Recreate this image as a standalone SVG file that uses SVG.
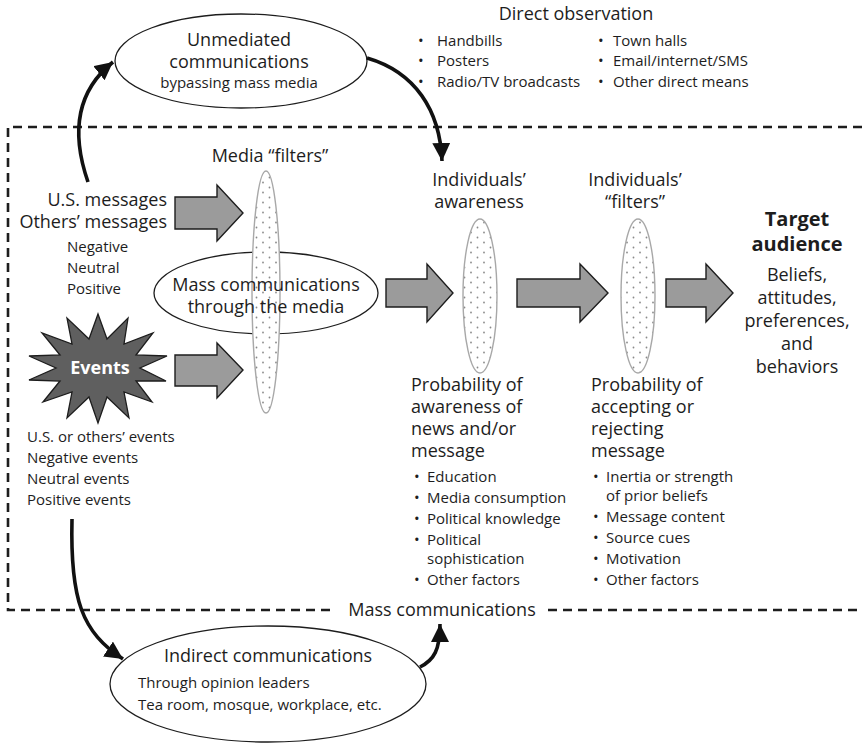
<svg xmlns="http://www.w3.org/2000/svg" width="862" height="743" viewBox="0 0 862 743">
  <defs>
    <pattern id="dots" width="13" height="10" patternUnits="userSpaceOnUse">
      <rect width="13" height="10" fill="#ffffff"/>
      <circle cx="3" cy="2.5" r="0.9" fill="#8a8a8a"/>
      <circle cx="9.5" cy="7.5" r="0.9" fill="#8a8a8a"/>
    </pattern>
    <marker id="head" markerUnits="userSpaceOnUse" markerWidth="20" markerHeight="18" refX="18" refY="9" orient="auto">
      <path d="M0,0 L18,9 L0,18 z" fill="#111"/>
    </marker>
    <style>
      text { font-family: "Open Sans", "Noto Sans", "Liberation Sans", sans-serif; fill: #1d1d1d; }
      .lg { font-size: 18px; }
      .sm { font-size: 15px; }
      .mid { text-anchor: middle; }
      .end { text-anchor: end; }
      .bold { font-weight: bold; }
      .oval { fill: #ffffff; stroke: #1d1d1d; stroke-width: 1.3; }
      .lens { fill: url(#dots); stroke: #a8a8a8; stroke-width: 1.4; }
      .blk { fill: #9b9b9b; stroke: #1d1d1d; stroke-width: 1.4; stroke-linejoin: miter; }
      .dash { fill: none; stroke: #1d1d1d; stroke-width: 2.6; stroke-dasharray: 9 6; }
      .curve { fill: none; stroke: #111; stroke-width: 3.6; marker-end: url(#head); }
    </style>
  </defs>
  <rect width="862" height="743" fill="#ffffff"/>

  <!-- mass-communications boundary -->
  <g id="boundary">
    <path class="dash" d="M862,127 H8 V610 H335"/>
    <path class="dash" d="M548,610 H862"/>
    <text class="lg mid" x="442" y="616">Mass communications</text>
  </g>

  <!-- unmediated channel -->
  <g id="unmediated">
    <ellipse class="oval" cx="241" cy="61" rx="126" ry="47"/>
    <text class="lg mid" x="239" y="46">Unmediated</text>
    <text class="lg mid" x="239" y="68">communications</text>
    <text class="sm mid" x="239" y="88">bypassing mass media</text>
  </g>

  <g id="direct-observation">
    <text class="lg mid" x="576" y="20">Direct observation</text>
    <text class="sm" x="418" y="46">•<tspan x="437">Handbills</tspan></text>
    <text class="sm" x="418" y="66">•<tspan x="437">Posters</tspan></text>
    <text class="sm" x="418" y="87">•<tspan x="437">Radio/TV broadcasts</tspan></text>
    <text class="sm" x="598" y="46">•<tspan x="613">Town halls</tspan></text>
    <text class="sm" x="598" y="66">•<tspan x="613">Email/internet/SMS</tspan></text>
    <text class="sm" x="598" y="87">•<tspan x="613">Other direct means</tspan></text>
  </g>

  <!-- message sources -->
  <g id="messages">
    <text class="lg end" x="167" y="206">U.S. messages</text>
    <text class="lg end" x="167" y="228">Others’ messages</text>
    <text class="sm" x="67" y="252">Negative</text>
    <text class="sm" x="67" y="273">Neutral</text>
    <text class="sm" x="67" y="294">Positive</text>
  </g>

  <g id="events">
    <polygon fill="#5f5f5f" stroke="#1d1d1d" stroke-width="1.3" points="98,314 107,339 128,318 124,344 153,333 136,355 167,356 140,368 166,381 136,381 152,402 124,392 129,418 107,397 98,423 89,397 67,418 72,392 43,402 60,381 29,380 56,368 29,356 60,355 42,333 72,344 67,318 89,339"/>
    <text class="lg mid bold" x="100" y="374" style="fill:#ffffff">Events</text>
    <text class="sm" x="27" y="442">U.S. or others’ events</text>
    <text class="sm" x="27" y="463">Negative events</text>
    <text class="sm" x="27" y="484">Neutral events</text>
    <text class="sm" x="27" y="505">Positive events</text>
  </g>

  <!-- media filter -->
  <g id="mass-media">
    <ellipse class="oval" cx="266" cy="293" rx="112" ry="41"/>
    <text class="lg mid" x="270" y="162">Media “filters”</text>
    <ellipse class="lens" cx="266" cy="292" rx="14" ry="121"/>
    <text class="lg mid" x="266" y="291">Mass communications</text>
    <text class="lg mid" x="266" y="313">through the media</text>
  </g>

  <!-- individual awareness -->
  <g id="awareness">
    <text class="lg mid" x="479" y="186">Individuals’</text>
    <text class="lg mid" x="479" y="208">awareness</text>
    <ellipse class="lens" cx="480" cy="296" rx="17" ry="77"/>
    <text class="lg" x="411" y="391">Probability of</text>
    <text class="lg" x="411" y="413">awareness of</text>
    <text class="lg" x="411" y="435">news and/or</text>
    <text class="lg" x="411" y="457">message</text>
    <text class="sm" x="414" y="482">•<tspan x="427">Education</tspan></text>
    <text class="sm" x="414" y="503">•<tspan x="427">Media consumption</tspan></text>
    <text class="sm" x="414" y="524">•<tspan x="427">Political knowledge</tspan></text>
    <text class="sm" x="414" y="545">•<tspan x="427">Political</tspan></text>
    <text class="sm" x="427" y="564">sophistication</text>
    <text class="sm" x="414" y="585">•<tspan x="427">Other factors</tspan></text>
  </g>

  <!-- individual filters -->
  <g id="acceptance">
    <text class="lg mid" x="635" y="186">Individuals’</text>
    <text class="lg mid" x="635" y="208">“filters”</text>
    <ellipse class="lens" cx="638" cy="296" rx="17" ry="77"/>
    <text class="lg" x="591" y="391">Probability of</text>
    <text class="lg" x="591" y="413">accepting or</text>
    <text class="lg" x="591" y="435">rejecting</text>
    <text class="lg" x="591" y="457">message</text>
    <text class="sm" x="593" y="482">•<tspan x="606">Inertia or strength</tspan></text>
    <text class="sm" x="606" y="501">of prior beliefs</text>
    <text class="sm" x="593" y="522">•<tspan x="606">Message content</tspan></text>
    <text class="sm" x="593" y="543">•<tspan x="606">Source cues</tspan></text>
    <text class="sm" x="593" y="564">•<tspan x="606">Motivation</tspan></text>
    <text class="sm" x="593" y="585">•<tspan x="606">Other factors</tspan></text>
  </g>

  <g id="target-audience">
    <text class="mid bold" x="797" y="226" style="font-size:20px">Target</text>
    <text class="mid bold" x="797" y="250.5" style="font-size:20px">audience</text>
    <text class="lg mid" x="797" y="281">Beliefs,</text>
    <text class="lg mid" x="797" y="304">attitudes,</text>
    <text class="lg mid" x="797" y="327">preferences,</text>
    <text class="lg mid" x="797" y="350">and</text>
    <text class="lg mid" x="797" y="373">behaviors</text>
  </g>

  <!-- indirect channel -->
  <g id="indirect">
    <ellipse class="oval" cx="268" cy="684" rx="158" ry="58"/>
    <text class="lg mid" x="268" y="662">Indirect communications</text>
    <text class="sm" x="138" y="688">Through opinion leaders</text>
    <text class="sm" x="138" y="710">Tea room, mosque, workplace, etc.</text>
  </g>

  <!-- connectors -->
  <g id="connectors">
    <path class="blk" d="M175,197 H217 V185 L243,213 L217,241 V229 H175 Z"/>
    <path class="blk" d="M175,355 H217 V343 L243,370 L217,398 V386 H175 Z"/>
    <path class="blk" d="M386,279 H427 V264 L453,293 L427,322 V307 H386 Z"/>
    <path class="blk" d="M517,279 H580 V264 L608,293 L580,322 V307 H517 Z"/>
    <path class="blk" d="M666,279 H706 V264 L733,293 L706,322 V307 H666 Z"/>
    <path class="curve" d="M88,182 C 70,130 78,90 113,62"/>
    <path class="curve" d="M367,58 C 415,72 440,110 442,161"/>
    <path class="curve" d="M72,519 C 70,600 82,632 123,659"/>
    <path class="curve" d="M420,667 C 434,660 440,650 440,624"/>
  </g>
</svg>
